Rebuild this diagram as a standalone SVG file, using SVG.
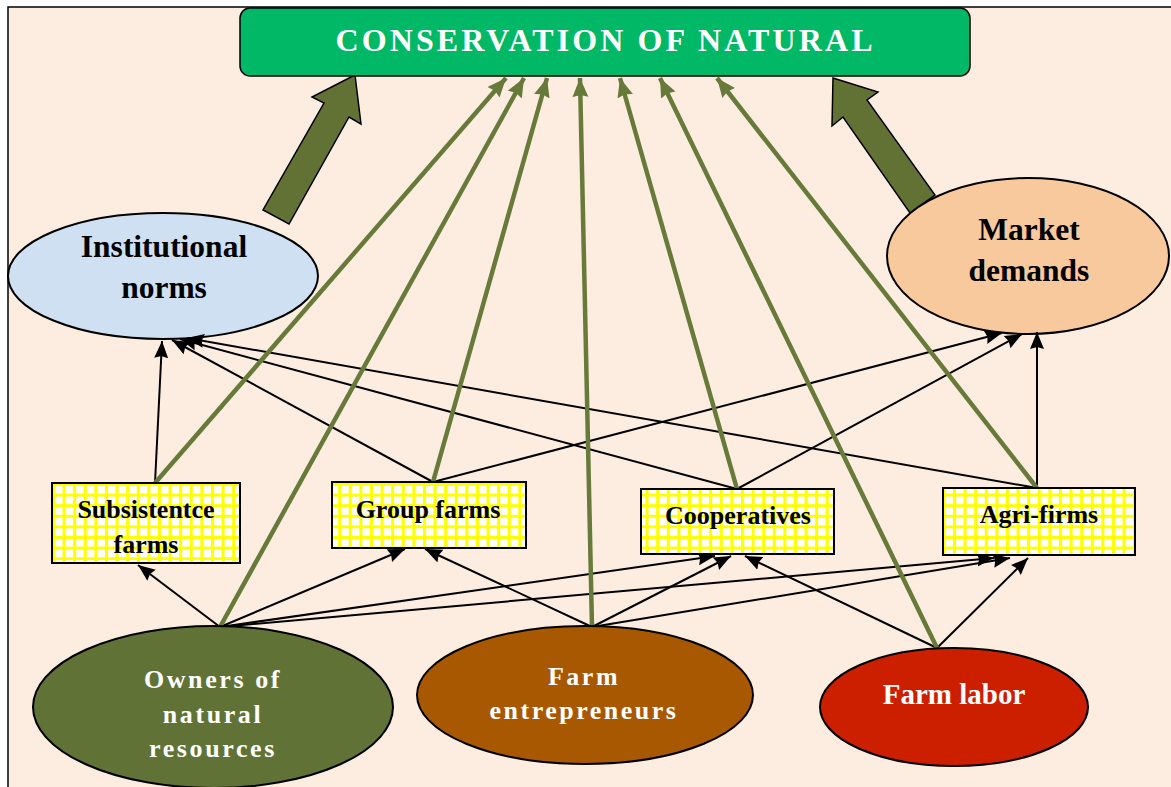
<svg xmlns="http://www.w3.org/2000/svg" width="1171" height="787" viewBox="0 0 1171 787">
<defs>
<style>
.lbl{font-family:"Liberation Serif","Times New Roman",serif;font-weight:bold;text-anchor:middle}
.blk{stroke:#000;stroke-width:2;fill:none;marker-end:url(#ah)}
.grn{stroke:#677A3A;stroke-width:4.5;fill:none;marker-end:url(#gh)}
.box{fill:url(#grid);stroke:#000;stroke-width:2}
.ell{stroke:#000;stroke-width:2}
.blockarrow{fill:#627234;stroke:#000;stroke-width:1.5}
</style>
<pattern id="grid" width="10.6" height="10.6" patternUnits="userSpaceOnUse" x="52" y="483">
<rect width="10.6" height="10.6" fill="#fff"/>
<path d="M1.5,0 V10.6 M0,1.5 H10.6" stroke="#FFFF00" stroke-width="3"/>
</pattern>
<marker id="ah" markerUnits="userSpaceOnUse" markerWidth="18" markerHeight="16" refX="17" refY="8" orient="auto">
<path d="M0,1 L17,8 L0,15 L2,8 z" fill="#000"/>
</marker>
<marker id="gh" markerUnits="userSpaceOnUse" markerWidth="20" markerHeight="18" refX="19" refY="9" orient="auto">
<path d="M0,1 L19,9 L0,17 L2,9 z" fill="#677A3A"/>
</marker>
</defs>
<rect x="8" y="7" width="1175" height="795" fill="#FDEDE0" stroke="#000" stroke-width="1.5"/>

<g id="block-arrows">
<polygon class="blockarrow" points="355,75 361,124 349,117 289,224 263,210 324,103 312,97"/>
<polygon class="blockarrow" points="833,78 878,92 867,100 935,195 910,213 843,117 832,126"/>
</g>

<g id="title">
<rect x="240" y="8" width="730" height="68" rx="10" fill="#00B865" stroke="#000" stroke-width="1.5"/>
<text class="lbl" x="604" y="51" font-size="32" fill="#fff" textLength="537" lengthAdjust="spacing">CONSERVATION OF NATURAL</text>
</g>

<g id="institutional-norms">
<ellipse class="ell" cx="163" cy="276" rx="155" ry="63" fill="#CFE0F3"/>
<text class="lbl" x="164" y="257" font-size="31.5">Institutional</text>
<text class="lbl" x="164" y="298" font-size="31.5">norms</text>
</g>

<g id="market-demands">
<ellipse class="ell" cx="1028" cy="256" rx="141" ry="78" fill="#F9C99E"/>
<text class="lbl" x="1029" y="240" font-size="31.5">Market</text>
<text class="lbl" x="1029" y="281" font-size="31.5">demands</text>
</g>

<g id="connectors">
<line class="blk" x1="220" y1="627" x2="138" y2="565"/>
<line class="blk" x1="220" y1="627" x2="405" y2="549"/>
<line class="blk" x1="220" y1="627" x2="715" y2="556"/>
<line class="blk" x1="220" y1="627" x2="994" y2="558"/>
<line class="blk" x1="592" y1="627" x2="425" y2="549"/>
<line class="blk" x1="592" y1="627" x2="731" y2="556"/>
<line class="blk" x1="592" y1="627" x2="1010" y2="558"/>
<line class="blk" x1="937" y1="648" x2="745" y2="556"/>
<line class="blk" x1="937" y1="648" x2="1028" y2="558"/>
<line class="blk" x1="155" y1="483" x2="162" y2="341"/>
<line class="blk" x1="433" y1="482" x2="172" y2="340"/>
<line class="blk" x1="737" y1="489" x2="180" y2="339"/>
<line class="blk" x1="1037" y1="488" x2="187" y2="338"/>
<line class="blk" x1="433" y1="482" x2="1002" y2="333"/>
<line class="blk" x1="737" y1="489" x2="1022" y2="334"/>
<line class="blk" x1="1037" y1="488" x2="1037" y2="332"/>
<line class="grn" x1="155" y1="483" x2="506" y2="78"/>
<line class="grn" x1="220" y1="627" x2="524" y2="78"/>
<line class="grn" x1="433" y1="482" x2="547" y2="78"/>
<line class="grn" x1="592" y1="627" x2="580" y2="78"/>
<line class="grn" x1="737" y1="489" x2="620" y2="78"/>
<line class="grn" x1="937" y1="648" x2="660" y2="78"/>
<line class="grn" x1="1037" y1="488" x2="717" y2="78"/>
</g>

<g id="subsistence-farms">
<rect class="box" x="52" y="483" width="188" height="80"/>
<text class="lbl" x="146" y="518" font-size="26">Subsistentce</text>
<text class="lbl" x="146" y="553" font-size="26">farms</text>
</g>

<g id="group-farms">
<rect class="box" x="332" y="482" width="194" height="66"/>
<text class="lbl" x="428" y="518" font-size="26">Group farms</text>
</g>

<g id="cooperatives">
<rect class="box" x="641" y="489" width="193" height="65"/>
<text class="lbl" x="738" y="524" font-size="26">Cooperatives</text>
</g>

<g id="agri-firms">
<rect class="box" x="943" y="488" width="192" height="67"/>
<text class="lbl" x="1039" y="523" font-size="26">Agri-firms</text>
</g>

<g id="owners">
<ellipse class="ell" cx="213" cy="707" rx="180" ry="81" fill="#607235"/>
<text class="lbl" x="213" y="688" font-size="26" fill="#fff" letter-spacing="2.6">Owners of</text>
<text class="lbl" x="213" y="723" font-size="26" fill="#fff" letter-spacing="2.6">natural</text>
<text class="lbl" x="213" y="757" font-size="26" fill="#fff" letter-spacing="2.6">resources</text>
</g>

<g id="farm-entrepreneurs">
<ellipse class="ell" cx="585" cy="695" rx="168" ry="69" fill="#A85800"/>
<text class="lbl" x="584" y="685" font-size="26" fill="#fff" letter-spacing="2.5">Farm</text>
<text class="lbl" x="584" y="719" font-size="26" fill="#fff" letter-spacing="2.5">entrepreneurs</text>
</g>

<g id="farm-labor">
<ellipse class="ell" cx="954" cy="707" rx="134" ry="59" fill="#CC1F00"/>
<text class="lbl" x="954" y="704" font-size="29" fill="#fff">Farm labor</text>
</g>
</svg>
